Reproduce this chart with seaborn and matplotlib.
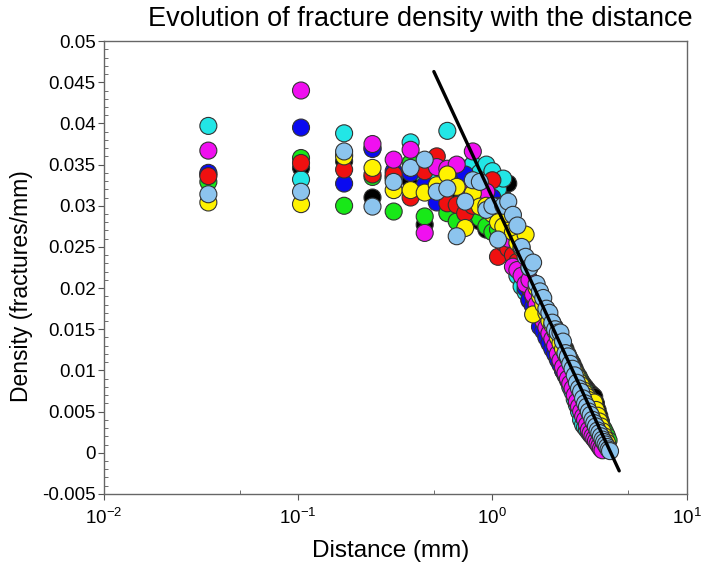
import matplotlib
matplotlib.use("Agg")
import matplotlib.pyplot as plt
import matplotlib.ticker as mticker
import seaborn as sns
import pandas as pd

# ---------------- data ----------------
distance = [0.0345, 0.1035, 0.1725, 0.2415, 0.3105, 0.3795, 0.4485, 0.5175, 0.5865, 0.6555,
            0.7245, 0.7935, 0.8625, 0.9315, 1.0005, 1.0695, 1.1385, 1.2075, 1.2765, 1.3455,
            1.4145, 1.4835, 1.5525, 1.6215, 1.6905, 1.7595, 1.8285, 1.8975, 1.9665, 2.0355,
            2.1045, 2.1735, 2.2425, 2.3115, 2.3805, 2.4495, 2.5185, 2.5875, 2.6565, 2.7255,
            2.7945, 2.8635, 2.9325, 3.0015, 3.0705, 3.1395, 3.2085, 3.2775, 3.3465, 3.4155,
            3.4845, 3.5535, 3.6225, 3.6915, 3.7605, 3.8295, 3.8985, 3.9675, 4.0365]

black = [0.0338, 0.0346, 0.0354, 0.0310, 0.0335, 0.0330, 0.0277, 0.0330, 0.0315, 0.0310,
         0.0300, 0.0292, 0.0281, 0.0271, 0.0305, 0.0300, 0.0310, 0.0327, 0.0255, 0.0245,
         0.0233, 0.0222, 0.0210, 0.0202, 0.0192, 0.0184, 0.0176, 0.0169, 0.0163, 0.0158,
         0.0152, 0.0147, 0.0140, 0.0132, 0.0126, 0.0119, 0.0113, 0.0108, 0.0102, 0.0096,
         0.0092, 0.0087, 0.0083, 0.0080, 0.0077, 0.0074, 0.0072, 0.0070, 0.0068, 0.0060,
         0.0052, 0.0045, 0.0038, 0.0030, 0.0024, 0.0018, 0.0012]

cyan = [0.0397, 0.0332, 0.0388, 0.0370, 0.0333, 0.0377, 0.0335, 0.0334, 0.0391, 0.0340,
        0.0345, 0.0350, 0.0340, 0.0350, 0.0342, 0.0320, 0.0333, 0.0255, 0.0240, 0.0215,
        0.0202, 0.0195, 0.0185, 0.0178, 0.0170, 0.0162, 0.0152, 0.0146, 0.0138, 0.0130,
        0.0122, 0.0115, 0.0108, 0.0100, 0.0094, 0.0088, 0.0080, 0.0074, 0.0065, 0.0058,
        0.0050, 0.0040, 0.0034, 0.0031, 0.0028, 0.0025, 0.0022, 0.0020, 0.0017, 0.0015,
        0.0012, 0.0010, 0.0008, 0.0006]

blue = [0.0340, 0.0395, 0.0327, 0.0369, 0.0342, 0.0340, 0.0325, 0.0304, 0.0330, 0.0338,
        0.0338, 0.0310, 0.0320, 0.0315, 0.0310, 0.0300, 0.0290, 0.0270, 0.0250, 0.0232,
        0.0218, 0.0200, 0.0186, 0.0178, 0.0170, 0.0153, 0.0148, 0.0140, 0.0133, 0.0126,
        0.0120, 0.0113, 0.0107, 0.0100, 0.0095, 0.0090, 0.0085, 0.0080, 0.0075, 0.0070,
        0.0065, 0.0060, 0.0055, 0.0050, 0.0046, 0.0042, 0.0038, 0.0034, 0.0030, 0.0027,
        0.0024, 0.0021, 0.0018, 0.0015, 0.0012, 0.0009]

green = [0.0329, 0.0358, 0.0300, 0.0335, 0.0293, 0.0352, 0.0287, 0.0320, 0.0291, 0.0281,
         0.0296, 0.0290, 0.0285, 0.0275, 0.0268, 0.0271, 0.0262, 0.0250, 0.0245, 0.0238,
         0.0230, 0.0215, 0.0210, 0.0200, 0.0192, 0.0186, 0.0178, 0.0172, 0.0165, 0.0157,
         0.0150, 0.0142, 0.0136, 0.0130, 0.0123, 0.0118, 0.0112, 0.0105, 0.0099, 0.0094,
         0.0090, 0.0084, 0.0079, 0.0075, 0.0070, 0.0066, 0.0061, 0.0057, 0.0052, 0.0048,
         0.0043, 0.0039, 0.0035, 0.0031, 0.0028, 0.0024, 0.0020, 0.0015]

red = [0.0336, 0.0352, 0.0344, 0.0338, 0.0338, 0.0310, 0.0342, 0.0360, 0.0303, 0.0301,
       0.0291, 0.0300, 0.0305, 0.0300, 0.0331, 0.0238, 0.0255, 0.0248, 0.0240, 0.0232,
       0.0222, 0.0212, 0.0200, 0.0190, 0.0180, 0.0172, 0.0160, 0.0153, 0.0148, 0.0140,
       0.0134, 0.0128, 0.0122, 0.0116, 0.0110, 0.0104, 0.0098, 0.0092, 0.0087, 0.0082,
       0.0077, 0.0071, 0.0066, 0.0061, 0.0056, 0.0051, 0.0047, 0.0043, 0.0039, 0.0035,
       0.0031, 0.0027, 0.0023, 0.0019, 0.0015, 0.0011]

magenta = [0.0367, 0.0440, 0.0362, 0.0375, 0.0356, 0.0368, 0.0267, 0.0347, 0.0345, 0.0350,
           0.0319, 0.0366, 0.0315, 0.0317, 0.0300, 0.0292, 0.0280, 0.0260, 0.0226, 0.0222,
           0.0215, 0.0205, 0.0210, 0.0192, 0.0180, 0.0170, 0.0160, 0.0152, 0.0145, 0.0138,
           0.0130, 0.0120, 0.0112, 0.0104, 0.0097, 0.0090, 0.0084, 0.0078, 0.0070, 0.0062,
           0.0056, 0.0050, 0.0044, 0.0040, 0.0034, 0.0028, 0.0024, 0.0020, 0.0017, 0.0014,
           0.0011, 0.0008, 0.0005, 0.0003]

yellow = [0.0304, 0.0302, 0.0360, 0.0346, 0.0319, 0.0319, 0.0316, 0.0325, 0.0338, 0.0323,
          0.0273, 0.0315, 0.0299, 0.0300, 0.0290, 0.0280, 0.0275, 0.0290, 0.0268, 0.0255,
          0.0248, 0.0265, 0.0225, 0.0168, 0.0200, 0.0190, 0.0180, 0.0170, 0.0160, 0.0155,
          0.0148, 0.0140, 0.0133, 0.0126, 0.0120, 0.0115, 0.0110, 0.0104, 0.0098, 0.0092,
          0.0086, 0.0082, 0.0076, 0.0072, 0.0068, 0.0064, 0.0060, 0.0058, 0.0061, 0.0052,
          0.0045, 0.0038, 0.0032, 0.0026, 0.0020, 0.0016, 0.0012]

lightblue = [0.0314, 0.0317, 0.0366, 0.0299, 0.0329, 0.0346, 0.0356, 0.0317, 0.0321, 0.0263,
             0.0305, 0.0331, 0.0329, 0.0295, 0.0300, 0.0259, 0.0300, 0.0305, 0.0289, 0.0276,
             0.0250, 0.0238, 0.0225, 0.0231, 0.0205, 0.0196, 0.0188, 0.0175, 0.0170, 0.0158,
             0.0150, 0.0146, 0.0146, 0.0135, 0.0121, 0.0117, 0.0108, 0.0102, 0.0094, 0.0085,
             0.0078, 0.0074, 0.0066, 0.0060, 0.0056, 0.0050, 0.0046, 0.0040, 0.0036, 0.0032,
             0.0027, 0.0024, 0.0020, 0.0016, 0.0013, 0.0010, 0.0007, 0.0004, 0.0002]

fit_x = [0.5, 4.5]
fit_y = [0.0463, -0.0022]

series_names = ["black", "cyan", "blue", "green", "red", "magenta", "yellow", "lightblue"]
series_values = [black, cyan, blue, green, red, magenta, yellow, lightblue]
series_colors = ["#000000", "#22E6E6", "#0A0AF0", "#18E818", "#F01010", "#F010F0",
                 "#FFF200", "#8CC4EE"]

yticks = [-0.005, 0, 0.005, 0.01, 0.015, 0.02, 0.025, 0.03, 0.035, 0.04, 0.045, 0.05]

# ---------------- build table ----------------
frames = []
for name, vals in zip(series_names, series_values):
    frames.append(pd.DataFrame({"Distance": distance[:len(vals)],
                                "Density": vals, "series": name}))
df = pd.concat(frames, ignore_index=True)
fit_df = pd.DataFrame({"x": fit_x, "y": fit_y})

# ---------------- plot ----------------
sns.set_style("white")
plt.rcParams["font.family"] = ["Liberation Sans", "DejaVu Sans"]
plt.rcParams["mathtext.fontset"] = "custom"
plt.rcParams["mathtext.rm"] = "Liberation Sans"
plt.rcParams["mathtext.it"] = "Liberation Sans:italic"
plt.rcParams["text.color"] = "black"
plt.rcParams["axes.labelcolor"] = "black"
plt.rcParams["xtick.color"] = "black"
plt.rcParams["ytick.color"] = "black"

fig = plt.figure(figsize=(7.02, 5.71), dpi=100)
ax = fig.add_axes([0.148, 0.135, 0.83, 0.793])

sns.scatterplot(data=df, x="Distance", y="Density", hue="series",
                hue_order=series_names, palette=series_colors, legend=False,
                s=150, edgecolor="#333333", linewidth=0.8, alpha=1, ax=ax, zorder=2)
sns.lineplot(data=fit_df, x="x", y="y", color="black", linewidth=2.4, ax=ax,
             zorder=3, estimator=None, sort=False)

ax.set_xscale("log")
ax.set_xlim(0.01, 10)
ax.set_ylim(-0.005, 0.05)
ax.set_yticks(yticks)
ax.yaxis.set_major_formatter(mticker.FuncFormatter(lambda v, p: "%g" % round(v, 4)))
ax.yaxis.set_minor_locator(mticker.MultipleLocator(0.001))
ax.xaxis.set_major_locator(mticker.LogLocator(base=10, numticks=10))
ax.xaxis.set_minor_locator(mticker.LogLocator(base=10, subs=[5.0], numticks=10))
ax.xaxis.set_minor_formatter(mticker.NullFormatter())

ax.tick_params(which="major", direction="out", length=4, width=0.8, colors="black",
               labelsize=13.5, pad=2, bottom=True, left=True)
ax.tick_params(which="minor", direction="in", length=3, width=0.6, color="#555555",
               bottom=True, left=True)
ax.tick_params(axis="x", which="major", pad=6)
for t in ax.get_xticklabels() + ax.get_yticklabels():
    t.set_color("black")
ax.tick_params(which="both", color="#555555")

for sp in ax.spines.values():
    sp.set_color("#666666")
    sp.set_linewidth(1.0)

ax.set_xlabel("")
ax.set_ylabel("")
fig.text(420 / 702, 1 - 19 / 571, "Evolution of fracture density with the distance",
         fontsize=19.5, ha="center", va="center", color="black")
fig.text(391 / 702, 1 - 551 / 571, "Distance (mm)", fontsize=17.5,
         ha="center", va="center", color="black")
fig.text(22 / 702, 1 - 286 / 571, "Density (fractures/mm)", fontsize=16.5,
         ha="center", va="center", rotation=90, color="black")

fig.savefig("out.png", dpi=100)
